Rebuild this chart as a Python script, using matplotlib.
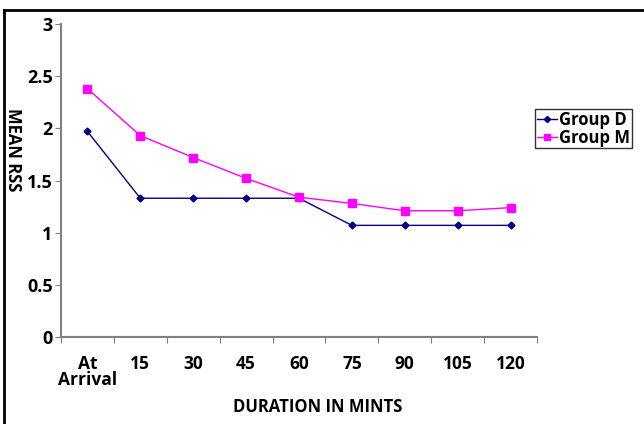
import matplotlib.pyplot as plt
from matplotlib.lines import Line2D

categories = ['At\nArrival', '15', '30', '45', '60', '75', '90', '105', '120']
group_d = [1.97, 1.33, 1.33, 1.33, 1.33, 1.07, 1.07, 1.07, 1.07]
group_m = [2.38, 1.93, 1.72, 1.52, 1.34, 1.28, 1.21, 1.21, 1.24]
yticks = [0, 0.5, 1, 1.5, 2, 2.5, 3]

plt.rcParams['font.family'] = ['Open Sans', 'DejaVu Sans']
plt.rcParams['font.weight'] = 'bold'

fig = plt.figure(figsize=(6.44, 4.24), dpi=100)
ax = fig.add_axes([61/644, 87/424, 476/644, 313/424])

x = list(range(len(categories)))
ax.plot(x, group_d, color='#000080', lw=1, marker='D', ms=3.5, label='Group D')
ax.plot(x, group_m, color='#ff00ff', lw=1, marker='s', ms=5.5, label='Group M')

ax.set_xlim(-0.5, len(categories) - 0.5)
ax.set_ylim(0, 3)
ax.set_yticks(yticks)
ax.set_yticklabels([('%g' % v) for v in yticks], fontsize=13, fontweight='bold')

# ticks between categories, labels centred on them
ax.set_xticks([i - 0.5 for i in range(len(categories) + 1)])
ax.set_xticklabels([])
ax.set_xticks(x, minor=True)
ax.set_xticklabels(categories, minor=True, fontsize=12.5, fontweight='bold', linespacing=0.85)
ax.tick_params(axis='x', which='minor', length=0, pad=13)
ax.tick_params(axis='x', which='major', length=4, color='#808080')
ax.tick_params(axis='y', length=4, color='#808080', pad=2)

for s in ['top', 'right']:
    ax.spines[s].set_visible(False)
for s in ['left', 'bottom']:
    ax.spines[s].set_color('#808080')
    ax.spines[s].set_linewidth(1.5)

fig.text(318/644, 1 - 407/424, 'DURATION IN MINTS', ha='center', va='center', fontsize=12, fontweight='bold')
fig.text(13/644, 1 - 150/424, 'MEAN RSS', ha='center', va='center', rotation=-90, fontsize=12, fontweight='bold')

leg = fig.legend(loc='upper left', bbox_to_anchor=(535/644, 1 - 109/424), frameon=True, fancybox=False,
                 prop={'size': 12, 'weight': 'bold'}, handlelength=1.2, handletextpad=0.15,
                 borderpad=0.1, labelspacing=0.0, borderaxespad=0, markerscale=0.9)
leg.get_frame().set_edgecolor('black')
leg.get_frame().set_linewidth(1)

# partial frame round the figure (left and top only)
fig.add_artist(Line2D([4/644, 4/644], [0, 1 - 10/424], color='black', lw=2))
fig.add_artist(Line2D([4/644, 1], [1 - 10/424, 1 - 10/424], color='black', lw=2))

fig.savefig('out.png', dpi=100)
